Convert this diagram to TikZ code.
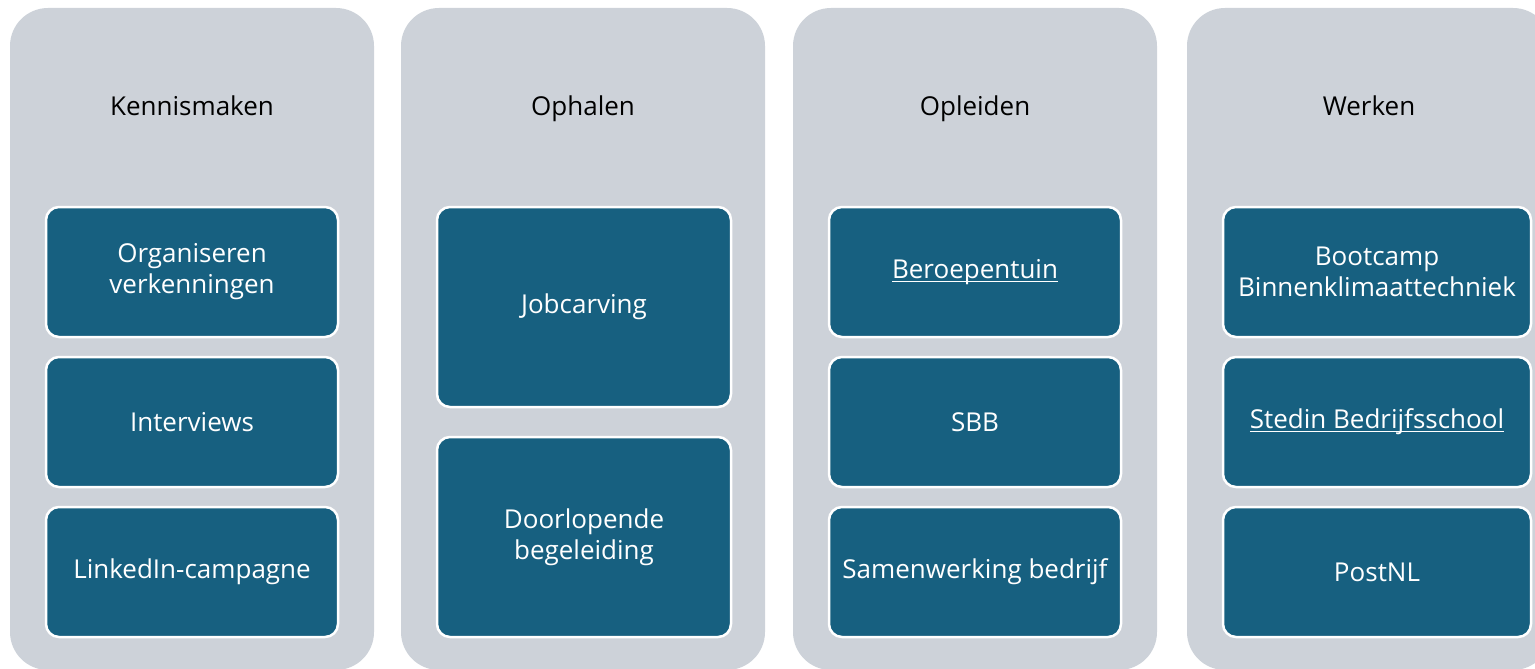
\documentclass[tikz,border=0pt]{standalone}
\usepackage{fontspec}
\setmainfont{Open Sans}
\definecolor{colgray}{RGB}{205,210,217}
\definecolor{boxblue}{RGB}{23,96,128}
\newcommand\myul[1]{\setbox0\hbox{#1}\rlap{\rule[-3.5pt]{\wd0}{1pt}}\box0}
\begin{document}
\begin{tikzpicture}[x=1pt,y=-1pt,
  column/.style={fill=colgray, rounded corners=38pt, minimum width=364pt, minimum height=662pt, inner sep=0pt},
  title/.style={text=black, font=\fontsize{26}{31}\selectfont, inner sep=0pt, anchor=base},
  item/.style={fill=boxblue, draw=white, line width=2.5pt, rounded corners=13pt, minimum width=292pt, minimum height=130pt, inner sep=0pt, align=center, text=white, font=\fontsize{26}{31}\selectfont},
  tall/.style={item, minimum height=200pt}
]
\clip (0,0) rectangle (1535,669);
% columns
\node[column] (c1) at (192,339) {};
\node[column] (c2) at (583,339) {};
\node[column] (c3) at (975,339) {};
\node[column] (c4) at (1369,339) {};
% titles
\node[title] (t1) at (192,115) {Kennismaken};
\node[title] (t2) at (583,115) {Ophalen};
\node[title] (t3) at (975,115) {Opleiden};
\node[title] (t4) at (1369,115) {Werken};
% column 1
\node[item] (a1) at (192,272) {Organiseren\\verkenningen};
\node[item] (a2) at (192,422) {Interviews};
\node[item] (a3) at (192,572) {LinkedIn-campagne};
% column 2
\node[tall, minimum width=294pt] (b1) at (584,307) {Jobcarving};
\node[tall, minimum width=294pt] (b2) at (584,537) {Doorlopende\\begeleiding};
% column 3
\node[item] (d1) at (975,272) {\myul{Beroepentuin}};
\node[item] (d2) at (975,422) {SBB};
\node[item] (d3) at (975,572) {Samenwerking bedrijf};
% column 4
\node[item, minimum width=308pt] (e1) at (1377,272) {Bootcamp\\Binnenklimaattechniek};
\node[item, minimum width=308pt] (e2) at (1377,422) {\myul{Stedin Bedrijfsschool}};
\node[item, minimum width=308pt] (e3) at (1377,572) {PostNL};
\end{tikzpicture}
\end{document}
